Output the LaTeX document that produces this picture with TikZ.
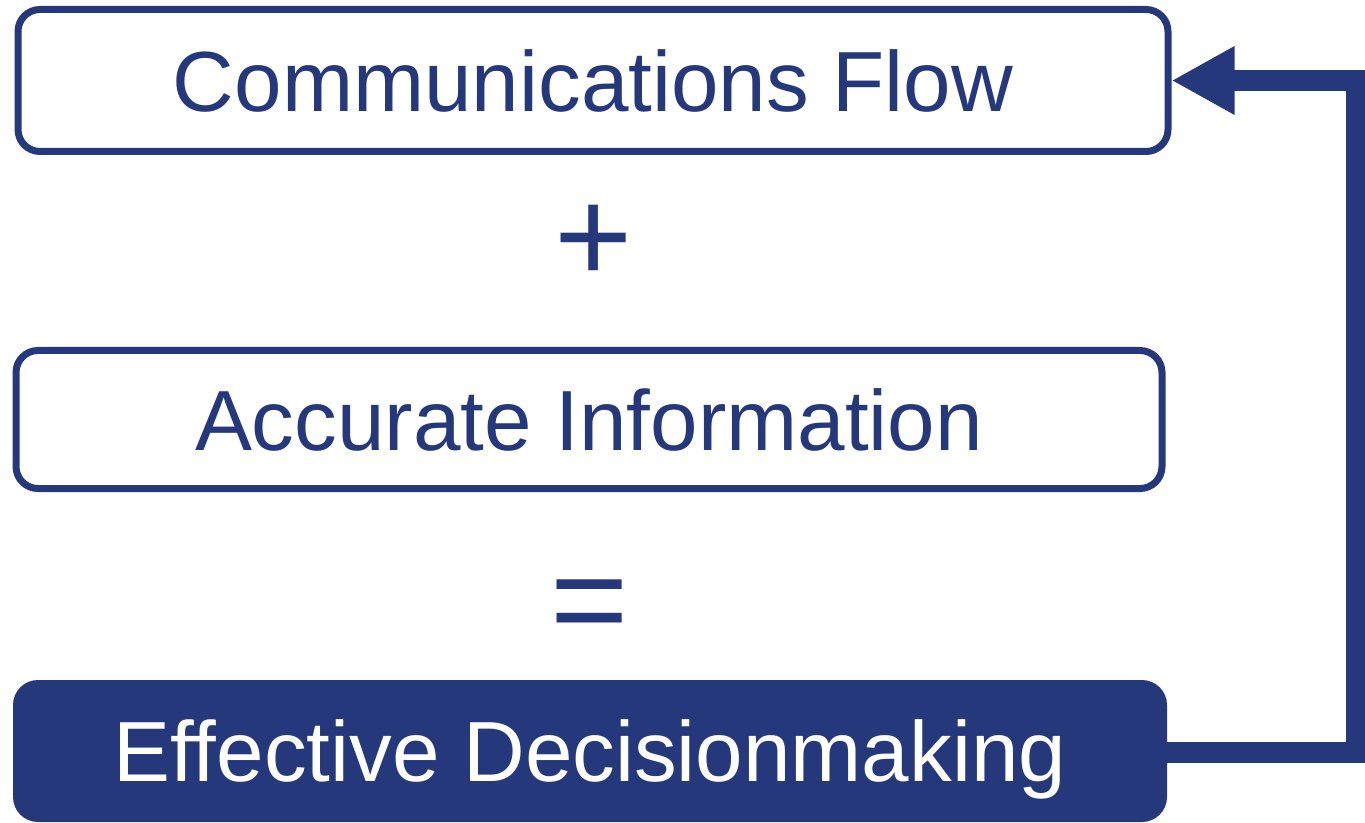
\documentclass[tikz,border=0pt]{standalone}
\usepackage{fontspec}
\setmainfont{Liberation Sans}
\usepackage{tikz}
\usetikzlibrary{arrows.meta,positioning,calc}
\definecolor{flowblue}{RGB}{37,56,124}

\begin{document}
\begin{tikzpicture}[x=0.5pt, y=-0.5pt, box node/.style={rectangle,rounded corners=11pt,draw=flowblue,line width=3.5pt,minimum width=575pt,minimum height=71pt,inner sep=0pt,text depth=0pt}, sign node/.style={inner sep=0pt,text=flowblue,font=\fontsize{67}{70}\selectfont}]
\useasboundingbox (0,0) rectangle (1365,823);
\begin{scope}[every node/.style={font=\fontsize{42.7}{50}\selectfont}]
\node[box node,text=flowblue] (vComm) at (593,80.5) {Communications Flow};
\node[box node,text=flowblue,minimum width=573pt,minimum height=69pt] (vInfo) at (589,419.5) {Accurate Information};
\node[box node,fill=flowblue,draw=none,outer sep=0pt,text=white,rounded corners=12.5pt,minimum width=577pt] (vDec) at (590,751) {Effective Decisionmaking};
\end{scope}
\node[sign node] (vPlus) at (594,244) {+};
\node[sign node] (vEq) at (590,613) {=};
\coordinate (vTurn) at (1356,752);
\draw[draw=flowblue,line width=10.5pt,-{Triangle[length=31.5pt,width=32pt]}] (vDec.east |- vTurn) -- (vTurn) |- (vComm.east);
\end{tikzpicture}
\end{document}
